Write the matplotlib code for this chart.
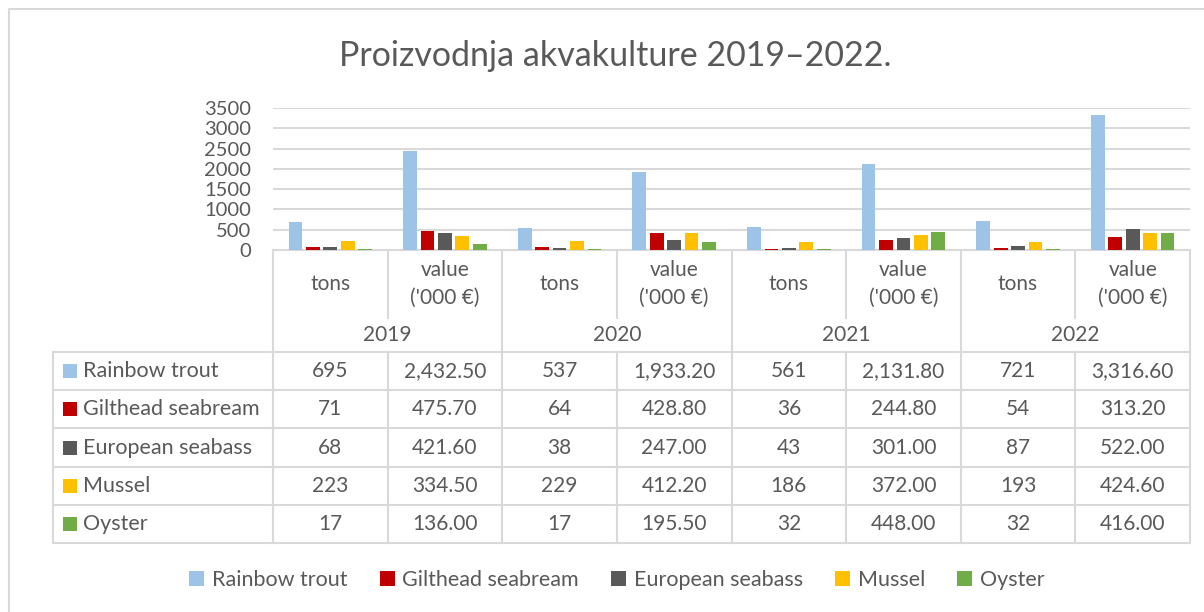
import numpy as np
import matplotlib
matplotlib.use("Agg")
import matplotlib.pyplot as plt
from matplotlib.patches import Rectangle

plt.rcParams['font.family'] = ['Lato', 'DejaVu Sans']

# data
years = ['2019', '2020', '2021', '2022']
measures = ['tons', "value\n('000 €)"]
species = ['Rainbow trout', 'Gilthead seabream', 'European seabass', 'Mussel', 'Oyster']
colors = ['#9DC3E6', '#C00000', '#595959', '#FFC000', '#70AD47']

trout_tons = [695, 537, 561, 721]
trout_value = [2432.5, 1933.2, 2131.8, 3316.6]
seabream_tons = [71, 64, 36, 54]
seabream_value = [475.7, 428.8, 244.8, 313.2]
seabass_tons = [68, 38, 43, 87]
seabass_value = [421.6, 247.0, 301.0, 522.0]
mussel_tons = [223, 229, 186, 193]
mussel_value = [334.5, 412.2, 372.0, 424.6]
oyster_tons = [17, 17, 32, 32]
oyster_value = [136.0, 195.5, 448.0, 416.0]

tons = [trout_tons, seabream_tons, seabass_tons, mussel_tons, oyster_tons]
value = [trout_value, seabream_value, seabass_value, mussel_value, oyster_value]

# interleave tons / value per year -> 8 categories
series = []
labels = []
for t, v in zip(tons, value):
    s = []
    l = []
    for i in range(len(years)):
        s += [t[i], v[i]]
        l += ['{:d}'.format(t[i]), '{:,.2f}'.format(v[i])]
    series.append(s)
    labels.append(l)

W, H = 1204, 612
txt = '#595959'
grid = '#d9d9d9'
fs = 15

fig = plt.figure(figsize=(W / 100, H / 100), dpi=100)

# outer chart frame (only left and top visible in the crop)
ov = fig.add_axes([0, 0, 1, 1])
ov.set_xlim(0, W)
ov.set_ylim(H, 0)
ov.axis('off')
ov.plot([9, 9, W], [H, 9, 9], color=grid, lw=1.5)

fig.text(615 / W, 1 - 56 / H, 'Proizvodnja akvakulture 2019–2022.',
         ha='center', va='center', fontsize=24.5, color=txt)

# bars
x0, x1 = 273, 1190
y_top, y_base = 108, 250
ax = fig.add_axes([x0 / W, 1 - y_base / H, (x1 - x0) / W, (y_base - y_top) / H])
n = len(series)
ncat = len(series[0])
bw = 0.12
step = 0.152
x = np.arange(ncat) + 0.5
for k in range(n):
    ax.bar(x + (k - (n - 1) / 2) * step, series[k], width=bw, color=colors[k],
           zorder=3, label=species[k])
ax.set_xlim(0, ncat)
ax.set_ylim(0, 3500)
ax.set_yticks(np.arange(0, 3501, 500))
ax.set_xticks([])
ax.yaxis.grid(True, color=grid, lw=1.5, zorder=0)
for sp in ax.spines.values():
    sp.set_visible(False)
ax.tick_params(axis='y', length=0, pad=16, labelsize=14.5, labelcolor=txt)

# data table under the bars
cw = (x1 - x0) / ncat
cols = [x0 + i * cw for i in range(ncat + 1)]
tab_left = 53
hdr_mid = 318
row_top = 352
rh = 38.2
rows = [row_top + i * rh for i in range(n + 1)]
lw = 1.5

ov.plot([x0, x1], [y_base, y_base], color=grid, lw=lw)
for i, cx in enumerate(cols):
    if i % 2 == 0:
        ov.plot([cx, cx], [y_base, rows[-1]], color=grid, lw=lw)
    else:
        ov.plot([cx, cx], [y_base, hdr_mid], color=grid, lw=lw)
        ov.plot([cx, cx], [row_top, rows[-1]], color=grid, lw=lw)
for ry in rows:
    ov.plot([tab_left, x1], [ry, ry], color=grid, lw=lw)
ov.plot([tab_left, tab_left], [row_top, rows[-1]], color=grid, lw=lw)

for i in range(ncat):
    cx = (cols[i] + cols[i + 1]) / 2
    ov.text(cx, 284, measures[i % 2], ha='center', va='center', fontsize=fs,
            color=txt, linespacing=1.45)
for j, yr in enumerate(years):
    cx = (cols[2 * j] + cols[2 * j + 2]) / 2
    ov.text(cx, 335, yr, ha='center', va='center', fontsize=fs, color=txt)

for k in range(n):
    cy = (rows[k] + rows[k + 1]) / 2
    ov.add_patch(Rectangle((63, cy - 7), 14, 14, color=colors[k], lw=0))
    ov.text(83, cy, species[k], ha='left', va='center', fontsize=fs + 0.5, color=txt)
    for i in range(ncat):
        cx = (cols[i] + cols[i + 1]) / 2
        ov.text(cx, cy, labels[k][i], ha='center', va='center', fontsize=fs, color=txt)

# legend
handles, names = ax.get_legend_handles_labels()
leg = fig.legend(handles, names, loc='center', bbox_to_anchor=(617 / W, 1 - 580 / H),
                 ncol=5, frameon=False, fontsize=15.5, handlelength=0.7,
                 handleheight=0.7, handletextpad=0.35, columnspacing=1.5)
for t in leg.get_texts():
    t.set_color(txt)

fig.savefig('out.png', dpi=100)
